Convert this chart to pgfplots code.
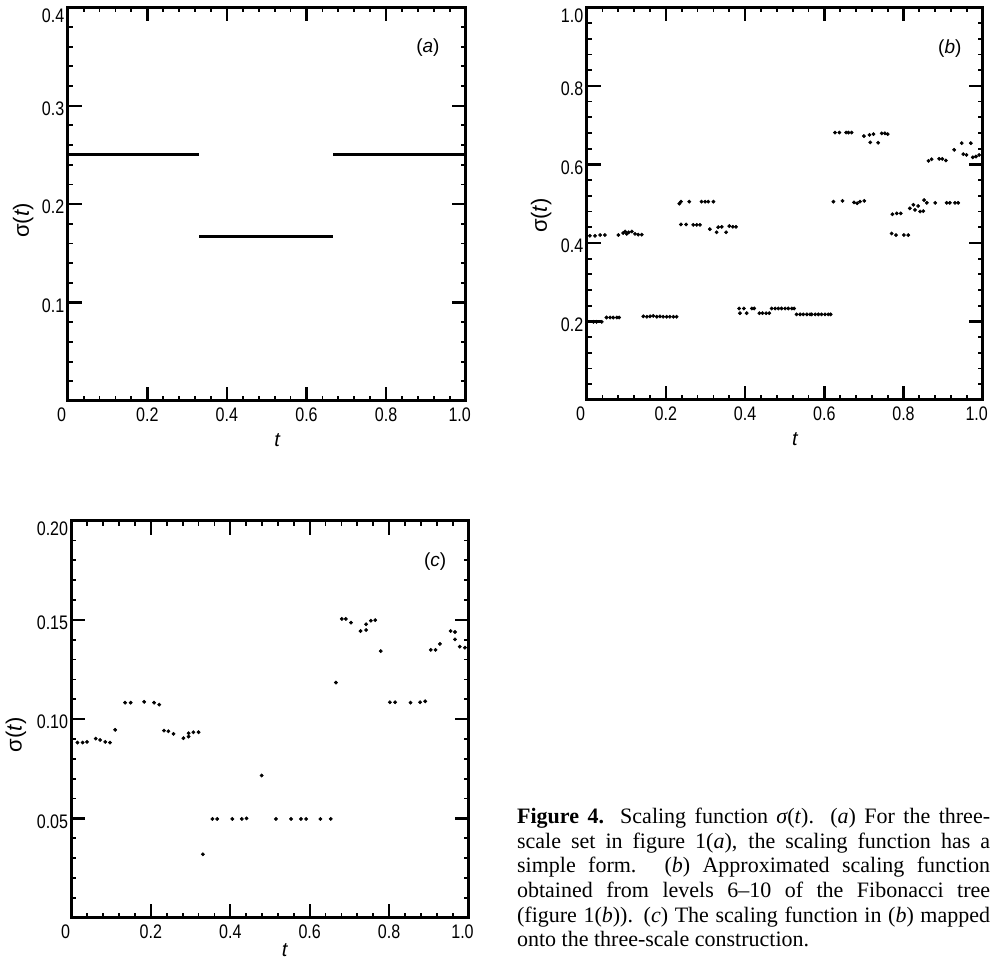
\documentclass[border=0pt]{standalone}
\usepackage{fontspec}
\setmainfont{Liberation Serif}
\newfontfamily\tickfont[FakeStretch=0.82]{Liberation Sans}
\newfontfamily\labfont{Liberation Sans}
\usepackage{pgfplots}
\pgfplotsset{compat=1.18}

% top tick label sits lower, inside the frame
\newcommand\toplab[1]{\smash{\raisebox{-6pt}{#1}}}

\pgfplotsset{
  panel/.style={
    scale only axis, anchor=south west,
    xmin=0, xmax=1, ymin=0,
    axis line style={line width=1.5pt},
    tick align=inside,
    major tick length=7pt, minor tick length=2.5pt,
    every major tick/.style={black, line width=1.2pt},
    every minor tick/.style={black, line width=0.9pt},
    minor x tick num=4, minor y tick num=4,
    xtick={0,0.2,0.4,0.6,0.8,1},
    xticklabels={{\hspace*{-6pt}0},0.2,0.4,0.6,0.8,{1.0\hspace*{6pt}}},
    tick label style={font=\tickfont\fontsize{9.8}{11}\selectfont},
    yticklabel style={yshift=-1.5pt, inner sep=1.5pt},
    xlabel={\labfont\itshape t},
    ylabel={\labfont\fontsize{11}{13}\selectfont σ(\textit{t})},
    ylabel style={anchor=center},
    xlabel style={anchor=center},
  },
  dots/.style={only marks, mark=*, mark size=0.8pt, black, line width=0.3pt},
}
\newcommand\plab[1]{\labfont\fontsize{9.5}{11}\selectfont(\textit{#1})}

\begin{document}
\begin{tikzpicture}

% (a)
\begin{axis}[panel, at={(33.85pt,280pt)}, width=199pt, height=196.85pt,
    ymax=0.4, ytick={0,0.1,0.2,0.3,0.4},
    yticklabels={{},0.1,0.2,0.3,\toplab{0.4}},
    xlabel style={at={(rel axis cs:0.526,-0.099)}},
    ylabel style={at={(rel axis cs:-0.112,0.459)}},
]
\addplot[black, line width=1.5pt, unbounded coords=jump] coordinates {
  (0,0.25) (0.331,0.25) (0.331,nan)
  (0.331,0.1667) (0.667,0.1667) (0.667,nan)
  (0.667,0.25) (1,0.25)
};
\node at (rel axis cs:0.905,0.898) {\plab{a}};
\end{axis}

% (b)
\begin{axis}[panel, at={(293.35pt,280.5pt)}, width=198pt, height=196.35pt,
    ymax=1, ytick={0,0.2,0.4,0.6,0.8,1},
    yticklabels={{},0.2,0.4,0.6,0.8,\toplab{1.0}},
    xlabel style={at={(rel axis cs:0.526,-0.10)}},
    ylabel style={at={(rel axis cs:-0.115,0.47)}},
]
\addplot[dots] coordinates {
  (0.008,0.418) (0.021,0.418) (0.034,0.420) (0.046,0.420)
  (0.017,0.199) (0.025,0.199) (0.038,0.199) (0.050,0.210) (0.059,0.210)
  (0.067,0.210) (0.076,0.210) (0.082,0.210)
  (0.080,0.420) (0.092,0.425) (0.097,0.429) (0.101,0.423) (0.106,0.427)
  (0.114,0.429) (0.122,0.423) (0.130,0.421) (0.139,0.421)
  (0.143,0.213) (0.152,0.212) (0.160,0.213) (0.168,0.214) (0.177,0.212)
  (0.185,0.213) (0.193,0.212) (0.202,0.212) (0.210,0.212) (0.219,0.212) (0.227,0.212)
  (0.234,0.500) (0.238,0.505) (0.259,0.505) (0.290,0.505) (0.299,0.505)
  (0.307,0.505) (0.320,0.505)
  (0.238,0.447) (0.251,0.447) (0.269,0.446) (0.278,0.446) (0.286,0.446)
  (0.311,0.435) (0.328,0.427) (0.332,0.440) (0.341,0.441) (0.352,0.427)
  (0.360,0.443) (0.369,0.441) (0.377,0.441)
  (0.385,0.233) (0.397,0.233) (0.417,0.233) (0.423,0.233) (0.467,0.233)
  (0.476,0.233) (0.484,0.233) (0.492,0.233) (0.501,0.233) (0.509,0.233)
  (0.518,0.233) (0.524,0.233)
  (0.387,0.221) (0.404,0.221) (0.436,0.221) (0.444,0.221) (0.453,0.221) (0.461,0.221)
  (0.530,0.218) (0.539,0.218) (0.547,0.218) (0.556,0.218) (0.564,0.218)
  (0.568,0.218) (0.577,0.218) (0.585,0.218) (0.593,0.218) (0.602,0.218)
  (0.610,0.218) (0.616,0.218)
  (0.627,0.681) (0.638,0.681) (0.655,0.681) (0.661,0.681) (0.669,0.681)
  (0.700,0.672) (0.714,0.675) (0.724,0.677) (0.716,0.656) (0.736,0.655)
  (0.745,0.679) (0.753,0.679) (0.760,0.677)
  (0.623,0.505) (0.646,0.507) (0.675,0.503) (0.683,0.501) (0.690,0.505) (0.701,0.507)
  (0.772,0.473) (0.783,0.475) (0.793,0.475)
  (0.770,0.424) (0.781,0.420) (0.801,0.420) (0.812,0.420)
  (0.816,0.488) (0.825,0.497) (0.829,0.484) (0.837,0.494) (0.842,0.480) (0.850,0.481)
  (0.852,0.509) (0.859,0.502) (0.880,0.502) (0.909,0.502) (0.917,0.502)
  (0.930,0.502) (0.938,0.502)
  (0.863,0.609) (0.871,0.613) (0.890,0.614) (0.898,0.614) (0.907,0.610)
  (0.928,0.637) (0.947,0.654) (0.970,0.654)
  (0.951,0.626) (0.959,0.624) (0.975,0.618) (0.983,0.620) (0.991,0.624)
};
\node at (rel axis cs:0.917,0.896) {\plab{b}};
\end{axis}

% (c)
\begin{axis}[panel, at={(35.75pt,21.7pt)}, width=198.5pt, height=198.45pt,
    ymax=0.2, ytick={0,0.05,0.10,0.15,0.20},
    yticklabels={{},0.05,0.10,0.15,\toplab{0.20}},
    xlabel style={at={(rel axis cs:0.537,-0.082)}},
    ylabel style={at={(rel axis cs:-0.14,0.46)}},
]
\addplot[dots] coordinates {
  (0.015,0.0882) (0.028,0.0882) (0.039,0.0885)
  (0.061,0.0902) (0.072,0.0895) (0.085,0.0885) (0.097,0.0882)
  (0.110,0.0946)
  (0.135,0.1083) (0.149,0.1083) (0.183,0.1087) (0.208,0.1083) (0.221,0.1073)
  (0.233,0.0942) (0.244,0.0939) (0.257,0.0926)
  (0.282,0.0904) (0.295,0.0912) (0.295,0.0929) (0.307,0.0934) (0.320,0.0934)
  (0.331,0.0319)
  (0.355,0.0497) (0.367,0.0497) (0.405,0.0497) (0.429,0.0497) (0.441,0.0500)
  (0.479,0.0716)
  (0.515,0.0497) (0.553,0.0497) (0.578,0.0497) (0.591,0.0497) (0.627,0.0497) (0.653,0.0497)
  (0.666,0.1184)
  (0.681,0.1505) (0.691,0.1505) (0.704,0.1486) (0.728,0.1444) (0.742,0.1449)
  (0.742,0.1478) (0.754,0.1496) (0.765,0.1499) (0.779,0.1343)
  (0.802,0.1085) (0.815,0.1085) (0.854,0.1083) (0.878,0.1085) (0.891,0.1090)
  (0.905,0.1349) (0.917,0.1349) (0.928,0.1379)
  (0.955,0.1444) (0.966,0.1439) (0.966,0.1402) (0.978,0.1365) (0.991,0.1360)
};
\node at (rel axis cs:0.916,0.897) {\plab{c}};
\end{axis}

% caption, one justified line per node
\begin{scope}[every node/.style={anchor=base west, inner sep=0pt,
    font=\fontsize{11}{12.25}\selectfont}]
\node at (258.35pt,68.5pt) {\makebox[236.5pt][s]{\textbf{Figure 4.} Scaling function {\itshape σ}(\textit{t}). (\textit{a}) For the three-}};
\node at (258.35pt,56.25pt) {\makebox[236.5pt][s]{scale set in figure 1(\textit{a}), the scaling function has a}};
\node at (258.35pt,44pt) {\makebox[236.5pt][s]{simple form. (\textit{b}) Approximated scaling function}};
\node at (258.35pt,31.5pt) {\makebox[236.5pt][s]{obtained from levels 6–10 of the Fibonacci tree}};
\node at (258.35pt,19.25pt) {\makebox[236.5pt][s]{(figure 1(\textit{b})). (\textit{c}) The scaling function in (\textit{b}) mapped}};
\node at (258.35pt,7pt) {onto the three-scale construction.};
\end{scope}

\pgfresetboundingbox
\path[use as bounding box] (0,0) rectangle (496pt,480.5pt);
\end{tikzpicture}
\end{document}
